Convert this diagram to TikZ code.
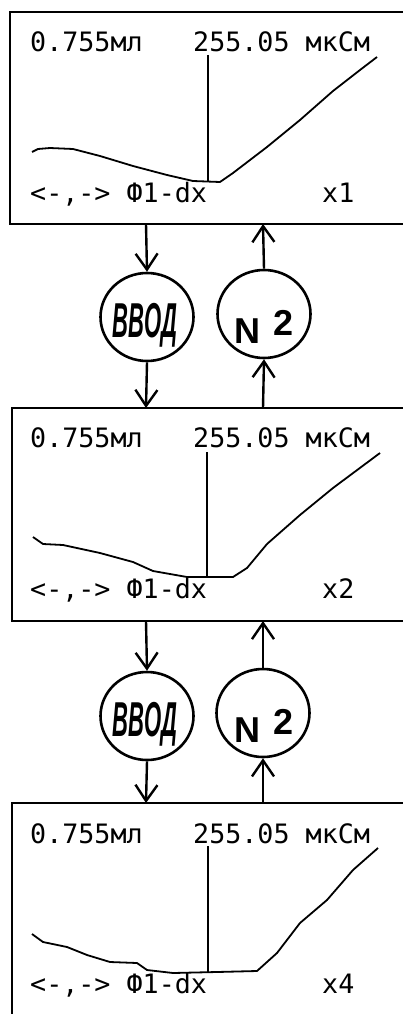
\documentclass[tikz,border=0pt]{standalone}
\usepackage{fontspec}
\setmonofont{DejaVu Sans Mono}
\newfontfamily\arialfont{Liberation Sans}
\usetikzlibrary{shapes.geometric,arrows.meta}
\begin{document}
\begin{tikzpicture}[x=1pt,y=-1pt,
 frame/.style={line width=2.6pt},
 arr/.style={line width=2.4pt,-{Straight Barb[length=16pt,width=22pt]}},
 curve/.style={line width=1.8pt, line join=round},
 marker/.style={line width=2pt},
 lcd/.style={font=\ttfamily\fontsize{26.7}{30}\selectfont, inner sep=0pt, anchor=base west},
 oval/.style={ellipse, draw, line width=2.6pt, minimum width=93pt, minimum height=88pt, inner sep=0pt},
 vvod/.style={font=\arialfont\bfseries\itshape\fontsize{49}{50}\selectfont, inner sep=0pt, anchor=base},
 ntxt/.style={font=\arialfont\bfseries\fontsize{36}{40}\selectfont, inner sep=0pt, anchor=base west}
]
\useasboundingbox (0,0) rectangle (403,1014);
\clip (0,0) rectangle (403,1014);

% ---------- frames ----------
\draw[frame] (420,12) -| (10,224) -- (420,224);
\draw[frame] (420,408) -| (12,621) -- (420,621);
\draw[frame] (420,803) -| (12,1030);

% ---------- panel 1 ----------
\node[lcd] (v1) at (30,52) {0.755мл};
\node[lcd] (c1) at (193,52) {255.05 мкСм};
\node[lcd] (k1) at (30,202) {<-,-> Ф1-dx};
\node[lcd] (m1) at (322,202) {x1};
\draw[curve] (32,152) -- (38,149) -- (50,148) -- (73,149) -- (100,156) -- (133,166) -- (167,175) -- (193,181) -- (220,182) -- (233,173) -- (267,147) -- (300,120) -- (333,91) -- (360,70) -- (377,57);
\draw[marker] (208,55) -- (208,182);

% ---------- panel 2 ----------
\node[lcd] (v2) at (30,447) {0.755мл};
\node[lcd] (c2) at (193,447) {255.05 мкСм};
\node[lcd] (k2) at (30,598) {<-,-> Ф1-dx};
\node[lcd] (m2) at (322,598) {x2};
\draw[curve] (33,537) -- (43,544) -- (63,545) -- (100,553) -- (133,562) -- (153,571) -- (187,577) -- (233,577) -- (247,568) -- (267,544) -- (300,515) -- (333,488) -- (380,453);
\draw[marker] (207,452) -- (207,577);

% ---------- panel 3 ----------
\node[lcd] (v3) at (30,843) {0.755мл};
\node[lcd] (c3) at (193,843) {255.05 мкСм};
\node[lcd] (k3) at (30,993) {<-,-> Ф1-dx};
\node[lcd] (m3) at (322,993) {x4};
\draw[curve] (32,934) -- (43,942) -- (67,947) -- (87,955) -- (110,962) -- (137,963) -- (147,970) -- (173,973) -- (217,972) -- (257,971) -- (277,953) -- (300,923) -- (327,900) -- (353,870) -- (378,848);
\draw[marker] (208,846) -- (208,972);

% ---------- anchor points on frames ----------
\coordinate (b1l) at (146,224);
\coordinate (b1r) at (263,224);
\coordinate (b2tl) at (146,408);
\coordinate (b2tr) at (263,408);
\coordinate (b2bl) at (146,621);
\coordinate (b2br) at (263,621);
\coordinate (b3l) at (146,803);
\coordinate (b3r) at (263,803);

% ---------- ovals ----------
\node[oval] (e1) at (147,317) {};
\node[oval] (e2) at (264,314) {};
\node[oval] (e3) at (147,716) {};
\node[oval] (e4) at (263,713) {};

\node[vvod] (t1) at (145,337) {\scalebox{0.45}[1]{ВВОД}};
\node[vvod] (t3) at (145,736) {\scalebox{0.45}[1]{ВВОД}};
\node[ntxt] (n1) at (234.5,343) {N};
\node[ntxt] (d1) at (273,335) {2};
\node[ntxt] (n3) at (234.5,742) {N};
\node[ntxt] (d3) at (273,734) {2};

% ---------- arrows ----------
\draw[arr] (b1l) -- (e1.north);
\draw[arr] (e1.south) -- (b2tl);
\draw[arr] (b2tr) -- (e2.south);
\draw[arr] (e2.north) -- (b1r);

\draw[arr] (b2bl) -- (e3.north);
\draw[arr] (e3.south) -- (b3l);
\draw[arr] (b3r) -- (e4.south);
\draw[arr] (e4.north) -- (b2br);
\end{tikzpicture}
\end{document}
